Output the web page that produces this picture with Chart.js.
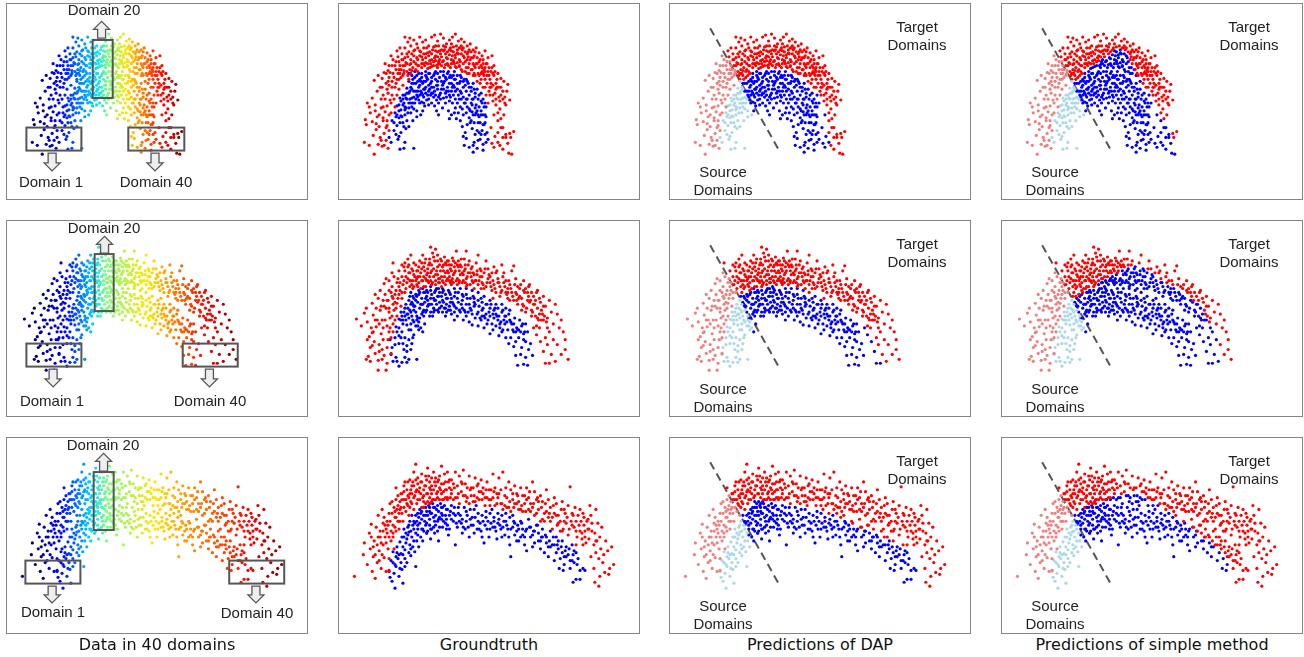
<!DOCTYPE html>
<html>
<head>
<meta charset="utf-8">
<script src="https://cdn.jsdelivr.net/npm/chart.js@4"></script>
<style>
html, body { margin: 0; background: #fff; }
body { position: relative; width: 1304px; height: 657px; overflow: hidden; }
canvas { position: absolute; }
.panel { position: absolute; box-sizing: border-box; width: 302px; height: 197px; border: 1px solid #858585; }
.note { position: absolute; width: 100px; margin-left: -50px; text-align: center; font: 15px/18px "Liberation Sans", Arial, sans-serif; color: #222; white-space: nowrap; }
.caption { position: absolute; top: 635px; width: 302px; text-align: center; font: 16px/20px "DejaVu Sans", sans-serif; color: #111; }
</style>
</head>
<body>
<script>
// all values are pixels-from-panel-corner, as flat x,y lists
const rowOneOuter = [25,140,26,117,27,122,30,143,31,110,33,119,34,133,35,152,36,102,37,127,38,114,39,142,40,124,41,135,42,105,43,144,44,118,45,131,46,109,47,138,48,123,49,146,50,112,51,97,42,96,36,108,30,104,28,100,33,95,38,88,44,92,48,103,52,110,41,84,47,80,35,77,39,72,45,69,50,62,54,56,58,47,52,52,61,44,66,33,71,34,43,75,48,86,53,92,56,84,58,76,54,70,50,74,46,60,49,78,53,78,57,66,60,58,63,50,66,44,69,38,72,42,75,36,78,40,81,33,84,38,87,36,90,42,93,33,96,31,99,37,102,30,105,34,108,40,111,36,114,33,117,30,120,37,123,35,126,38,129,42,132,40,135,46,138,44,141,49,144,52,147,47,150,54,154,52,156,62,160,70,163,75,166,78,170,81,57,58,60,66,62,74,64,62,66,54,68,60,70,48,72,56,74,64,76,46,78,54,80,62,82,48,84,56,86,62,88,44,90,52,92,60,94,46,96,54,98,62,100,42,102,50,104,58,106,46,108,54,110,62,112,44,114,52,116,60,118,42,120,50,122,58,124,46,126,54,128,64,130,48,132,56,134,66,136,52,138,60,140,70,142,56,144,64,146,72,148,60,150,68,152,76,154,64,156,72,158,80,61,70,65,70,68,50,71,66,73,50,75,58,77,66,79,44,81,52,83,60,85,44,87,54,89,60,91,48,93,56,95,62,97,42,99,48,101,56,103,62,105,42,107,50,109,60,111,46,113,56,115,48,117,54,119,46,121,56,123,42,125,60,127,48,129,56,131,70,133,48,135,60,137,72,139,54,141,64,143,76,145,60,147,68,149,80,151,64,153,84,155,70,157,90,159,76,161,84,163,92,165,88,167,94,169,88,172,97,145,84,148,92,152,92,155,98,158,102,160,110,162,106,156,112,163,116,166,112,168,102,165,125,160,118,163,125,160,130,165,135,168,132,153,125,157,134,154,141,156,145,160,140,162,143,168,135,172,131,176,129,171,151,174,152,173,135,170,141,165,147,64,82,60,86,58,92,55,96,56,104,52,100,49,90,46,96,44,104,40,112,37,121,42,138,45,143,47,125,50,128,44,115,48,118,85,60,91,64,99,64,106,64,112,64,118,64,124,68,130,64,136,70,142,80,146,66,87,50,109,48,97,52,113,40,75,52,103,46,122,44,130,53,64,56,121,62,72,60,79,62,100,58,115,58,136,62,144,68,152,84,158,96,150,100];
const rowOneOuterCore = [59,53,61,62,63,56,65,67,67,59,69,53,69,72,71,61,73,67,75,47,77,60,79,56,79,68,81,47,83,64,83,53,85,50,87,59,89,49,89,65,91,57,93,50,93,63,95,43,95,58,97,47,97,57,99,53,99,61,101,47,101,60,103,53,105,57,105,47,107,61,107,43,109,55,111,51,113,60,113,47,115,57,115,43,117,63,117,51,119,59,119,49,121,44,121,63,123,50,123,66,125,52,125,44,127,58,127,68,129,50,129,70,131,60,131,46,133,66,133,54,135,54,135,72,137,48,137,64,139,60,139,78,141,72,141,58,143,62,143,70,145,70,145,56,147,76,147,64,149,72,149,60,151,72,151,88,153,80,153,68,155,82,155,92,157,68,159,84,161,94,163,84,165,96,167,100,162,98,158,86,147,84,50,82,53,84,47,70,43,84,51,69,55,74,59,70,57,80,53,62,49,67,56,62,60,76,62,66,64,72,66,62,68,68,70,76,72,70];
const rowOneInner = [50,135,52,140,55,128,53,118,56,110,58,123,59,137,61,147,65,146,62,130,64,120,60,115,58,103,62,107,66,112,67,126,66,140,68,118,70,124,75,146,74,118,72,110,70,105,65,100,61,95,64,92,67,95,70,90,73,95,76,100,78,108,78,114,82,112,84,108,86,103,68,85,72,84,75,88,78,92,80,97,83,99,85,94,88,97,90,102,93,100,96,103,98,108,100,112,104,105,107,100,110,108,113,112,116,110,111,116,70,78,74,76,77,80,80,84,82,88,85,86,87,90,90,88,92,92,95,94,98,97,100,100,102,96,105,95,108,94,111,98,114,100,117,105,120,110,118,116,122,118,124,124,127,130,125,134,128,136,126,143,131,145,135,150,136,140,139,146,142,137,145,142,147,132,149,130,150,137,144,128,146,122,142,120,139,128,136,120,140,112,143,108,145,112,148,114,137,105,134,109,131,115,129,122,125,112,122,104,119,100,115,92,112,94,108,88,105,86,102,90,99,86,96,88,93,84,90,82,87,78,84,80,81,76,78,72,76,68,73,72,70,70,80,70,83,70,87,68,90,70,93,74,96,70,99,78,102,68,105,72,108,76,111,80,114,84,117,88,120,92,123,96,126,100,129,104,132,108,135,112,138,102,141,104,144,100,146,104,113,74,116,76,119,80,122,78,125,84,128,88,131,92,134,96,137,90,140,96,143,98,116,68,122,72,126,76,130,80,133,84,136,86,128,76,110,68,97,68,88,74,82,78,76,74,73,80,68,90,64,96,60,102,57,114,55,120,60,108,62,113,67,105,72,100,77,96,81,92,86,86,92,80,98,82,104,82,110,88,116,84,122,88,128,96,134,102,138,110,140,120,133,118,128,110,124,106,90,96,94,90,100,94,106,78,112,72,84,92,79,88,71,96,66,107,73,104,148,104,147,120,148,140,145,148,135,143];
const rowOneInnerCore = [71,88,73,86,75,80,75,94,77,88,79,78,79,94,81,82,81,100,83,74,83,90,85,78,85,100,87,72,87,84,89,76,89,92,91,70,91,86,93,78,93,90,95,72,95,84,97,76,97,92,99,70,99,82,101,74,101,92,103,78,103,86,105,68,105,80,107,74,107,90,109,70,109,84,111,74,111,92,113,80,113,88,115,72,115,82,117,76,117,96,119,72,119,86,121,80,121,96,123,74,123,90,125,78,125,94,127,82,127,100,129,78,129,96,131,84,131,106,133,88,133,100,135,80,135,96,137,94,137,112,139,86,139,108,141,92,141,114,143,90,143,112,145,96,145,122,147,100,147,112,68,96,66,92,64,102,62,98,66,104,70,100,74,100,75,106,69,110,63,114,61,120,65,124,58,112,57,132,60,134,141,130,143,132,134,126,132,120,137,132,140,138];
const rowTwoOuter = [17,99,22,106,25,93,27,88,28,102,30,117,31,128,33,113,34,95,35,122,36,134,37,107,38,100,39,141,40,125,41,90,42,114,43,130,44,120,45,136,27,140,29,137,31,142,39,151,47,151,48,128,50,112,51,98,52,118,52,134,54,104,46,100,47,88,44,80,42,86,37,88,39,78,36,74,33,83,41,70,45,63,47,58,50,60,53,66,56,74,58,83,55,90,50,92,49,80,46,74,53,52,55,56,58,62,61,70,63,78,60,50,63,44,66,50,68,62,71,66,54,42,69,38,72,34,75,42,78,50,80,62,82,68,84,34,86,42,88,54,90,62,92,26,94,32,97,28,99,40,102,50,104,60,106,36,108,44,110,52,112,62,114,37,116,46,118,30,120,40,122,54,124,62,126,38,128,30,130,44,132,52,134,60,136,68,138,42,140,34,142,48,144,56,146,68,148,40,150,48,152,56,154,70,156,46,158,52,160,62,162,76,164,44,166,52,168,60,170,68,172,80,174,50,176,45,178,58,180,66,182,76,184,90,186,60,188,68,190,80,192,64,194,72,196,84,198,96,200,70,202,78,204,90,206,76,208,86,210,98,212,80,214,92,216,104,218,84,220,94,222,108,224,100,226,112,228,120,231,140,216,120,212,112,206,100,202,108,208,118,220,125,224,135,210,125,214,135,208,144,212,144,218,142,228,130,196,108,199,115,203,122,206,132,200,98,60,74,64,64,66,72,70,52,72,60,74,68,76,56,78,64,80,46,82,52,84,60,86,50,88,60,90,44,92,52,94,62,96,40,98,50,100,58,102,38,104,46,106,56,108,60,110,40,112,48,114,58,116,52,118,60,120,46,122,44,124,52,126,50,128,58,130,52,132,64,134,46,136,54,138,60,140,64,142,56,144,62,146,52,148,66,150,58,152,62,154,52,156,64,158,72,160,58,162,66,164,70,166,62,168,72,170,78,172,64,174,72,176,80,178,72,180,84,182,68,184,78,186,86,188,92,190,72,192,82,194,90,196,76,198,80,200,88,202,94,204,100,206,86,194,96,210,108,66,42,70,44,74,50,79,56,83,48,85,56,87,66,89,52,91,38,93,44,95,56,97,60,99,46,101,58,103,66,105,50,107,42,109,58,111,60,113,44,115,54,117,42,119,58,121,62,123,38,125,60,127,44,129,64,131,40,133,56,135,52,137,60,139,50,56,82,58,96,62,86,54,78,48,106,44,108,40,104,34,112,36,100,32,108,28,120,33,126,40,132,43,140,48,144,49,120,51,108,54,112,56,100,53,96,199,106,191,66,186,70,179,80,170,72,155,78,143,68,128,66,113,64,100,62,92,60,78,58,74,60];
const rowTwoOuterCore = [57,70,59,58,59,78,61,62,63,56,63,72,65,60,65,46,67,56,67,68,69,46,69,58,71,52,71,60,73,48,73,64,75,54,75,66,77,44,77,60,79,50,79,66,81,56,81,40,83,60,83,42,85,46,85,66,87,58,87,38,89,48,89,60,91,42,91,56,93,50,93,64,95,36,95,48,97,54,97,64,99,34,99,54,101,44,101,62,103,40,103,56,105,62,105,44,107,52,107,64,109,40,109,50,111,56,111,44,113,60,113,50,115,40,115,62,117,50,119,44,119,64,121,50,121,60,123,46,125,54,127,48,127,62,129,56,133,48,135,62,139,54,141,60,143,50,145,64,147,48,149,62,151,54,153,66,155,60,157,68,159,50,161,62,163,72,165,56,167,66,169,74,171,60,173,68,175,76,177,64,179,74,181,78,183,64,185,84,187,72,189,88,191,76,193,80,195,92,197,84,199,72,201,100,203,82,205,94,207,96,209,102,52,72,48,80,45,86,43,100,50,88,54,84,57,88,60,66,53,76,50,70];
const rowTwoInner = [51,120,52,135,53,128,54,142,56,125,57,138,58,142,60,147,62,118,63,143,66,138,68,143,70,140,78,140,72,130,65,130,60,124,58,112,56,118,60,108,63,112,66,118,68,126,70,120,73,124,75,115,72,110,68,105,64,104,60,99,57,107,62,92,66,96,69,88,72,84,75,90,78,96,80,102,82,108,84,112,86,104,80,110,77,106,70,98,74,100,66,88,70,80,74,76,77,80,80,74,83,78,86,82,89,86,92,92,95,88,98,84,101,88,104,92,107,96,110,90,113,94,116,100,119,96,122,92,125,100,128,96,131,102,134,105,137,98,140,106,143,100,146,108,149,104,152,114,155,110,158,106,161,116,164,112,167,104,170,110,173,118,176,112,178,122,181,118,184,128,186,114,188,122,191,130,193,124,195,136,188,138,183,135,178,136,180,146,190,146,186,145,176,127,171,124,168,118,165,110,160,100,156,98,152,96,148,94,144,90,140,92,136,86,132,88,128,84,124,80,120,82,116,76,112,74,108,78,104,72,100,68,96,72,92,70,88,70,84,68,80,70,78,76,84,84,88,76,92,78,96,80,100,76,104,80,108,84,112,82,116,86,120,72,124,74,128,74,132,78,136,78,140,80,144,82,148,84,152,88,156,90,160,88,164,92,168,96,172,100,176,104,180,110,184,106,188,104,172,90,168,88,164,84,158,84,152,80,146,76,140,72,134,70,128,68,122,68,116,68,110,70,104,68,98,68,92,66,86,72,82,84,76,86,72,92,68,94,64,100,72,72,74,84,90,84,94,96,100,92,106,88,112,90,118,88,126,90,134,94,142,98,150,100,158,94,166,100,174,104,182,100,84,92,78,100,72,104,88,90,108,92,116,92,124,88,136,82,144,96,162,104,154,104,186,120,178,112,190,112,62,100,60,116,64,124,68,132,74,118,81,98];
const rowTwoInnerCore = [65,92,63,96,67,84,67,100,69,94,71,76,71,90,73,82,73,96,75,78,75,86,75,102,77,74,77,92,79,82,79,98,81,72,81,88,83,84,83,94,85,72,85,90,87,78,87,92,89,72,89,80,91,84,91,96,93,74,93,84,95,78,95,92,97,70,97,80,99,76,99,90,101,72,101,82,103,76,103,86,105,70,105,82,107,74,107,88,109,78,111,72,111,86,113,78,115,84,117,72,119,78,121,90,123,84,125,76,127,92,129,78,131,84,133,90,135,76,137,84,139,94,141,86,143,78,145,88,147,98,149,84,151,92,153,84,155,94,157,88,159,96,161,96,163,102,165,90,167,96,169,102,171,94,173,102,175,110,177,98,179,108,181,110,183,112,185,104,187,112,162,108,146,96,130,92,114,82,96,90,85,96,79,106,70,110];
const rowThreeOuter = [15,140,24,118,25,106,28,128,30,96,31,112,32,87,33,135,34,120,35,104,36,142,37,90,38,126,39,78,40,114,41,100,42,132,43,72,44,108,45,121,46,88,47,135,48,96,49,112,50,76,51,66,52,104,53,64,54,88,55,112,56,80,57,50,58,72,60,92,62,56,64,84,66,44,68,66,70,78,71,42,73,56,75,34,77,26,79,46,81,62,83,36,85,52,87,66,89,30,91,44,93,56,95,34,97,48,99,60,101,38,103,28,105,46,107,60,109,34,111,50,113,42,115,62,117,34,119,48,121,38,123,54,125,32,127,46,129,60,131,38,133,50,135,64,137,40,139,48,141,54,143,42,145,56,147,68,149,44,151,52,153,62,155,36,157,50,159,66,161,40,163,52,165,34,167,58,169,70,171,44,173,52,175,62,177,48,179,56,181,72,183,50,185,58,187,66,189,50,191,60,193,74,195,44,197,54,199,62,201,72,203,58,205,64,207,76,209,52,211,62,213,70,215,80,217,60,219,66,221,78,223,84,225,64,227,72,229,86,231,68,233,49,235,76,237,90,239,84,241,78,243,72,245,96,247,88,249,106,251,82,253,68,255,94,257,108,259,72,261,86,263,100,265,90,267,118,269,104,271,114,273,132,275,110,277,128,272,138,268,136,263,140,262,150,258,146,257,132,262,122,266,126,254,120,259,116,252,102,248,94,244,84,240,100,236,78,232,92,228,76,59,84,62,70,65,62,67,74,70,60,72,52,74,44,76,58,78,66,80,54,82,44,84,60,86,48,88,56,90,38,92,52,94,62,96,44,98,56,100,42,102,52,104,62,106,36,108,52,110,44,112,60,116,50,120,56,124,46,128,64,132,52,136,58,140,46,144,62,148,52,152,68,156,54,160,60,164,66,168,50,172,64,176,70,180,58,184,68,188,74,192,54,196,66,200,60,204,70,208,66,212,76,216,68,220,88,224,72,226,92,230,80,234,84,238,70,242,88,246,76,250,84,254,78,258,96,260,104,264,112,252,92,248,100,246,108,56,90,52,94,50,100,48,84,46,100,44,94,42,106,40,124,38,108,36,118,34,110,32,100,43,118,47,106,50,122,50,134,54,100,57,94,60,76,63,62,68,52,61,64,65,54,69,68,72,64,75,48,78,52,82,56,85,64,88,42,91,60,93,40,97,62,101,50,105,54,109,60,113,52,117,60,121,66,125,58,129,50,133,58,137,64,141,62,145,50,149,60,153,52,157,68,161,56,165,72,169,60,173,74,177,66,181,64,185,74,189,62,193,66,197,78,201,64,205,82,209,74,213,84,217,76,221,86,225,94];
const rowThreeOuterCore = [55,70,57,80,57,62,59,68,59,58,61,84,61,72,63,76,63,56,65,70,65,48,67,62,69,58,69,44,71,70,71,56,73,66,73,48,75,72,75,60,77,54,77,42,79,62,79,40,81,50,83,70,83,44,85,58,85,70,87,48,87,38,89,64,89,56,91,50,91,66,93,48,93,64,95,52,95,62,97,40,99,54,99,44,101,62,103,46,103,56,105,62,107,44,107,52,109,62,111,42,113,56,115,46,119,60,123,44,127,58,131,66,135,50,139,60,143,54,147,60,151,62,155,60,159,56,163,66,167,68,171,70,175,56,179,66,183,72,187,58,191,72,195,70,199,76,203,84,207,84,211,80,215,92,219,78,223,94,227,84,231,98,235,88,239,94,243,94,247,80,251,92,255,86,259,104,245,102,239,108,53,76,49,88,47,92,45,80,51,84,54,96,56,74,60,84,44,86,41,94,39,100];
const rowThreeInner = [50,135,51,141,52,124,53,145,54,115,55,137,56,152,57,130,58,110,59,122,60,140,61,105,62,117,63,133,64,147,65,100,66,113,68,126,70,95,71,108,72,119,74,88,75,104,76,115,77,130,78,84,79,98,80,110,82,76,83,92,84,104,85,70,86,84,88,96,90,68,91,88,92,102,94,66,95,80,96,96,98,72,99,84,100,104,102,66,103,76,104,90,106,68,108,82,110,98,111,92,113,68,115,76,117,108,118,86,120,70,122,78,124,96,126,70,128,84,130,90,132,72,134,80,136,96,138,68,140,76,142,86,144,100,146,106,148,74,150,84,152,92,154,72,156,80,158,94,160,76,162,88,164,100,166,84,168,76,170,92,172,108,173,120,175,78,177,86,179,94,181,104,183,84,185,92,187,100,189,114,191,82,193,90,195,98,197,106,199,88,201,96,203,112,205,92,207,116,209,100,211,120,213,94,215,108,217,124,219,100,221,112,223,122,225,104,227,128,229,110,231,118,233,132,235,108,237,126,239,116,241,122,243,134,236,146,239,143,243,143,226,134,222,132,246,132,248,134,60,118,64,110,68,102,72,94,76,86,80,80,88,74,92,76,96,70,100,74,104,70,108,72,112,74,116,70,120,76,124,82,128,74,132,82,136,72,140,84,144,78,148,80,152,76,156,84,160,86,164,78,168,84,172,80,176,84,180,88,184,86,188,94,192,90,196,94,200,88,204,100,208,98,212,104,216,100,220,108,224,110,228,114,232,112,236,118,240,128,75,92,79,88,83,82,87,78,91,74,95,90,99,94,103,82,107,86,111,78,115,84,119,90,123,86,127,92,131,100,135,88,139,92,143,94,147,88,151,100,155,90,159,102,163,92,167,98,171,100,175,90,179,104,183,100,187,108,195,110,203,104,211,110,219,116,227,120,235,124,70,88,67,96,64,118,61,132,57,120,66,130,72,112,78,104,84,92,88,86,92,92,96,84,100,82,104,78,108,92];
const rowThreeInnerCore = [63,100,65,92,67,106,69,90,69,98,71,84,73,78,73,100,75,84,77,78,77,96,79,76,79,92,81,86,81,72,83,74,85,78,85,94,87,70,87,88,89,78,89,94,91,82,91,70,93,76,93,92,95,70,97,78,97,88,99,68,101,80,101,90,103,70,105,84,107,78,109,72,109,88,113,82,117,78,121,84,125,90,129,78,133,88,137,80,141,92,145,84,149,92,153,86,157,90,161,82,165,90,169,88,173,92,177,98,181,92,185,98,189,92,193,100,197,94,201,104,205,100,209,106,213,110,217,108,221,104,225,116,229,120,233,124,237,114,88,96,82,100,74,110,70,116,66,122,62,126,58,116,56,128,54,126];

const dapOneLine = [[72,78],[83,68],[100,65],[117,68],[133,75],[148,90],[157,105],[160,130],[163,150],[170,220]];
const simpleOneLine = [[72,78],[119,42],[130,60],[150,95],[170,130],[178,160],[185,220]];
const dapTwoLine = [[72,75],[85,67],[100,65],[130,68],[165,82],[196,105],[216,140],[222,220]];
const simpleTwoLine = [[72,78],[134,42],[199,85],[224,135],[232,220]];
const dapThreeLine = [[72,75],[86,63],[130,68],[166,78],[241,113],[256,153],[262,220]];
const simpleThreeLine = [[72,75],[117,57],[143,58],[187,87],[213,107],[230,128],[233,147],[238,220]];
const sourceEdge = [[30,46],[78,71],[103,81],[155,97]];   // y -> x, left of it is source

// x -> position along the 40 domains
const rampOne = [[25,0],[55,.12],[92,.38],[101,.5],[120,.65],[150,.85],[178,1]];
const rampTwo = [[28,0],[60,.12],[88,.35],[98,.5],[150,.68],[190,.85],[232,1]];
const rampThree = [[25,0],[55,.12],[85,.35],[100,.5],[160,.68],[230,.85],[280,1]];
const jetStops = [[0,[0,0,127]],[.11,[0,0,255]],[.35,[0,220,255]],[.5,[120,255,130]],[.65,[255,230,0]],[.89,[255,0,0]],[1,[127,0,0]]];

const panelX = [6,338,669,1001];
const panelY = [3,220,437];
const captions = ['Data in 40 domains','Groundtruth','Predictions of DAP','Predictions of simple method'];

const domainBoxes = [
  [[19,125,74,148],[86,36,106,94],[122,125,178,148]],
  [[19,124,74,147],[88,33,107,90],[177,124,232,147]],
  [[18,124,73,147],[87,34,107,92],[224,124,279,147]]
];
const arrowSpots = [   // x, tail y, head y
  [[45,151,169],[95,34,17],[149,151,169]],
  [[46,150,168],[98,32,15],[204,150,168]],
  [[45,150,167],[97,33,15],[251,150,167]]
];
const domainLabels = [
  [['Domain 1',45,170],['Domain 20',98,-2],['Domain 40',150,170]],
  [['Domain 1',46,172],['Domain 20',98,-1],['Domain 40',204,172]],
  [['Domain 1',47,166],['Domain 20',97,-1],['Domain 40',251,167]]
];
const dashLine = [[40,24],[109,147]];

function pairs(flat) {
  const out = [];
  for (let i = 0; i < flat.length; i += 2) out.push({ x: flat[i], y: flat[i + 1] });
  return out;
}

function lookup(line, v) {
  if (v <= line[0][0]) return line[0][1];
  for (let i = 1; i < line.length; i++) {
    if (v <= line[i][0]) {
      const a = line[i - 1], b = line[i];
      return a[1] + (b[1] - a[1]) * (v - a[0]) / (b[0] - a[0]);
    }
  }
  return line[line.length - 1][1];
}

function jetColor(t) {
  for (let i = 1; i < jetStops.length; i++) {
    if (t <= jetStops[i][0]) {
      const a = jetStops[i - 1], b = jetStops[i];
      const f = (t - a[0]) / (b[0] - a[0]);
      const c = a[1].map((v, k) => Math.round(v + (b[1][k] - v) * f));
      return `rgb(${c[0]},${c[1]},${c[2]})`;
    }
  }
  return 'rgb(127,0,0)';
}

const isSource = p => p.x < lookup(sourceEdge, p.y);

const rows = [
  { outer: pairs(rowOneOuter.concat(rowOneOuterCore)), inner: pairs(rowOneInner.concat(rowOneInnerCore)), dap: dapOneLine, simple: simpleOneLine, ramp: rampOne },
  { outer: pairs(rowTwoOuter.concat(rowTwoOuterCore)), inner: pairs(rowTwoInner.concat(rowTwoInnerCore)), dap: dapTwoLine, simple: simpleTwoLine, ramp: rampTwo },
  { outer: pairs(rowThreeOuter.concat(rowThreeOuterCore)), inner: pairs(rowThreeInner.concat(rowThreeInnerCore)), dap: dapThreeLine, simple: simpleThreeLine, ramp: rampThree }
];

function dots(data, color) {
  return { data: data, backgroundColor: color, pointRadius: 1.6, pointHoverRadius: 1.6, borderWidth: 0, showLine: false };
}

function predictedSets(row, line) {
  const all = row.outer.concat(row.inner);
  const target = all.filter(p => !isSource(p));
  const isBlue = p => p.y > lookup(line, p.x);
  return [
    dots(row.outer.filter(isSource), '#f08080'),
    dots(row.inner.filter(isSource), '#add8e6'),
    dots(target.filter(p => !isBlue(p)), '#ff0000'),
    dots(target.filter(isBlue), '#0000ff'),
    { data: dashLine.map(p => ({ x: p[0], y: p[1] })), showLine: true, pointRadius: 0, borderColor: '#555', borderWidth: 2, borderDash: [8, 5] }
  ];
}

// boxes and block arrows of the first column
const domainMarks = {
  id: 'domainMarks',
  afterDatasetsDraw(chart, args, opts) {
    if (!opts.boxes) return;
    const { ctx, scales: { x, y } } = chart;
    ctx.save();
    ctx.strokeStyle = '#555';
    ctx.lineWidth = 2;
    opts.boxes.forEach(b => {
      ctx.strokeRect(x.getPixelForValue(b[0]), y.getPixelForValue(b[1]), b[2] - b[0], b[3] - b[1]);
    });
    ctx.lineWidth = 1.3;
    ctx.fillStyle = '#eeeeee';
    opts.arrows.forEach(a => {
      const cx = x.getPixelForValue(a[0]), t = y.getPixelForValue(a[1]), h = y.getPixelForValue(a[2]);
      const s = Math.sign(h - t), neck = h - s * 8;
      ctx.beginPath();
      ctx.moveTo(cx - 4, t);
      ctx.lineTo(cx - 4, neck);
      ctx.lineTo(cx - 8, neck);
      ctx.lineTo(cx, h);
      ctx.lineTo(cx + 8, neck);
      ctx.lineTo(cx + 4, neck);
      ctx.lineTo(cx + 4, t);
      ctx.closePath();
      ctx.fill();
      ctx.stroke();
    });
    ctx.restore();
  }
};

function makePanel(r, c, datasets, marks) {
  const frame = document.createElement('div');
  frame.className = 'panel';
  frame.style.left = panelX[c] + 'px';
  frame.style.top = panelY[r] + 'px';
  document.body.appendChild(frame);
  const canvas = document.createElement('canvas');
  canvas.width = 302;
  canvas.height = 197;
  canvas.style.left = panelX[c] + 'px';
  canvas.style.top = panelY[r] + 'px';
  document.body.appendChild(canvas);
  new Chart(canvas, {
    type: 'scatter',
    data: { datasets: datasets },
    plugins: [domainMarks],
    options: {
      responsive: false,
      animation: false,
      layout: { padding: 0 },
      plugins: { legend: { display: false }, tooltip: { enabled: false }, domainMarks: marks || {} },
      scales: {
        x: { type: 'linear', display: false, min: 0, max: 302 },
        y: { type: 'linear', display: false, min: 0, max: 197, reverse: true }
      }
    }
  });
}

function addNote(text, left, top) {
  const d = document.createElement('div');
  d.className = 'note';
  d.style.left = left + 'px';
  d.style.top = top + 'px';
  d.innerHTML = text;
  document.body.appendChild(d);
}

rows.forEach((row, r) => {
  const all = row.outer.concat(row.inner);
  const colored = dots(all, all.map(p => jetColor(lookup(row.ramp, p.x))));
  makePanel(r, 0, [colored], { boxes: domainBoxes[r], arrows: arrowSpots[r] });
  makePanel(r, 1, [dots(row.outer, '#ff0000'), dots(row.inner, '#0000ff')]);
  makePanel(r, 2, predictedSets(row, row.dap));
  makePanel(r, 3, predictedSets(row, row.simple));

  domainLabels[r].forEach(l => addNote(l[0], panelX[0] + l[1], panelY[r] + l[2]));
  [2, 3].forEach(c => {
    addNote('Target<br>Domains', panelX[c] + 248, panelY[r] + 15);
    addNote('Source<br>Domains', panelX[c] + 54, panelY[r] + 160);
  });
});

captions.forEach((t, c) => {
  const d = document.createElement('div');
  d.className = 'caption';
  d.style.left = panelX[c] + 'px';
  d.textContent = t;
  document.body.appendChild(d);
});
</script>
</body>
</html>
